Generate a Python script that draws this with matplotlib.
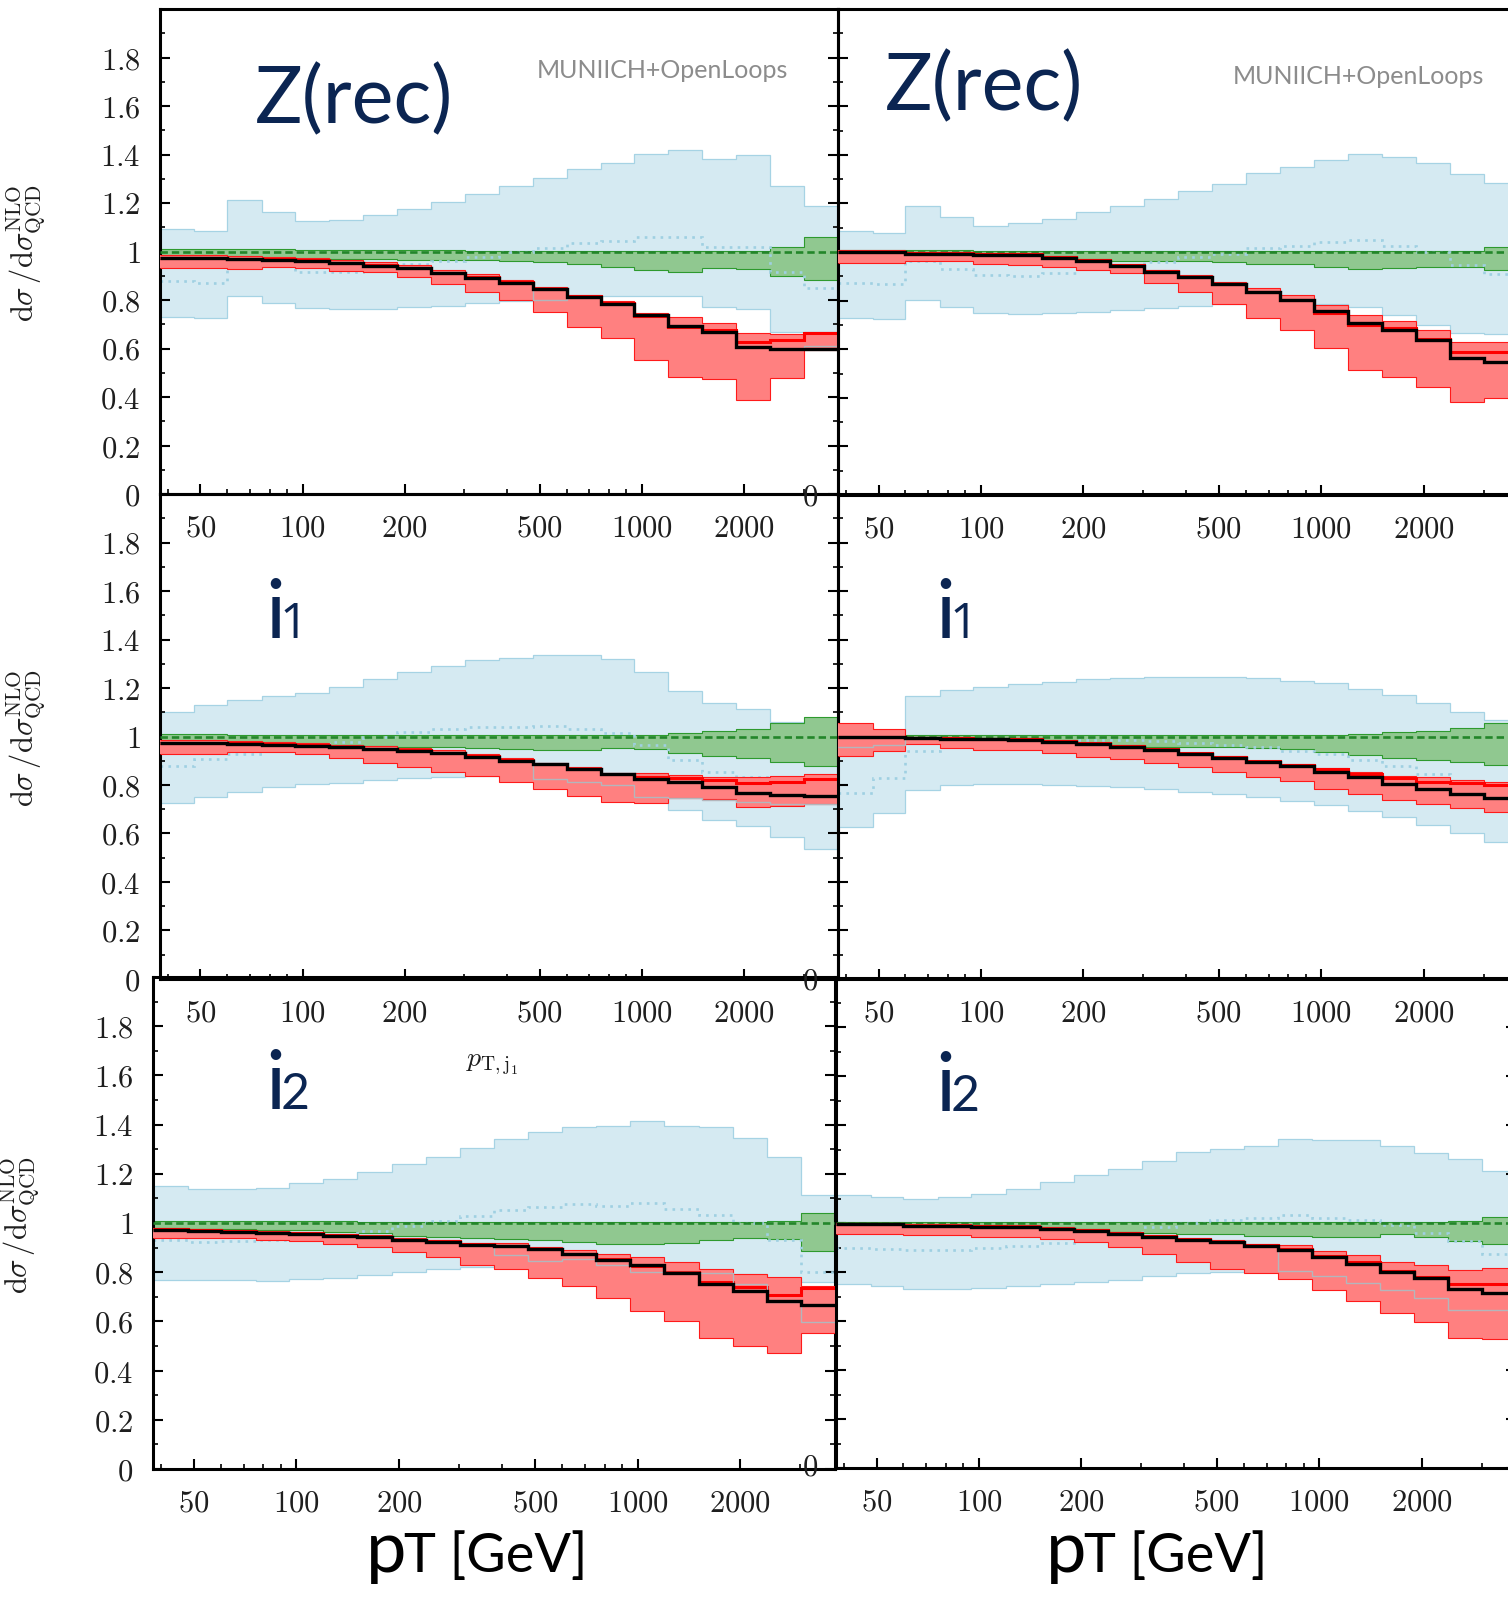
import matplotlib
matplotlib.use("Agg")
import matplotlib.pyplot as plt
from matplotlib.ticker import FixedLocator, FixedFormatter, NullFormatter
from matplotlib.transforms import Bbox

plt.rcParams['mathtext.fontset'] = 'cm'

# ---------------- data ----------------
bin_edges = [38, 48, 60, 76, 95, 120, 151, 190, 239, 301, 379, 477, 600, 756,
             951, 1198, 1508, 1898, 2390, 3009, 3788]
x_range = (38, 3788)
x_major = [50, 100, 200, 500, 1000, 2000]
x_major_labels = ['50', '100', '200', '500', '1000', '2000']
x_minor = [40, 60, 70, 80, 90, 300, 400, 600, 700, 800, 900, 3000]
y_major = [0, 0.2, 0.4, 0.6, 0.8, 1.0, 1.2, 1.4, 1.6, 1.8]
y_major_labels = ['0', '0.2', '0.4', '0.6', '0.8', '1', '1.2', '1.4', '1.6', '1.8']
y_minor = [0.1, 0.3, 0.5, 0.7, 0.9, 1.1, 1.3, 1.5, 1.7, 1.9]
ref_level = 1.0

# Z(rec), left
zl_blue_hi = [1.091, 1.085, 1.212, 1.163, 1.126, 1.129, 1.149, 1.177, 1.205, 1.237, 1.271, 1.302, 1.340, 1.364, 1.401, 1.419, 1.381, 1.397, 1.270, 1.186]
zl_blue_lo = [0.728, 0.727, 0.816, 0.789, 0.766, 0.762, 0.763, 0.772, 0.777, 0.786, 0.795, 0.800, 0.810, 0.816, 0.816, 0.816, 0.772, 0.762, 0.667, 0.667]
zl_blue_c = [0.878, 0.872, 0.944, 0.944, 0.917, 0.917, 0.931, 0.950, 0.961, 0.979, 0.999, 1.013, 1.034, 1.045, 1.061, 1.061, 1.020, 1.020, 0.914, 0.848]
zl_green_hi = [1.012, 1.012, 1.010, 1.010, 1.008, 1.008, 1.006, 1.005, 1.005, 1.004, 1.003, 1.003, 1.003, 1.003, 1.003, 1.003, 1.003, 1.003, 1.020, 1.058]
zl_green_lo = [0.975, 0.975, 0.975, 0.972, 0.970, 0.970, 0.968, 0.966, 0.965, 0.963, 0.961, 0.955, 0.947, 0.937, 0.924, 0.917, 0.931, 0.926, 0.900, 0.882]
zl_red_hi = [0.986, 0.986, 0.980, 0.977, 0.973, 0.963, 0.955, 0.945, 0.925, 0.907, 0.882, 0.852, 0.822, 0.794, 0.745, 0.729, 0.707, 0.665, 0.658, 0.667]
zl_red_lo = [0.931, 0.931, 0.926, 0.937, 0.930, 0.920, 0.916, 0.896, 0.868, 0.834, 0.800, 0.749, 0.690, 0.645, 0.553, 0.481, 0.473, 0.388, 0.480, 0.595]
zl_red_c = [0.975, 0.975, 0.971, 0.968, 0.964, 0.954, 0.945, 0.934, 0.913, 0.895, 0.874, 0.847, 0.817, 0.787, 0.735, 0.690, 0.675, 0.625, 0.635, 0.662]
zl_black = [0.972, 0.972, 0.968, 0.965, 0.961, 0.951, 0.942, 0.931, 0.910, 0.892, 0.871, 0.844, 0.814, 0.784, 0.738, 0.694, 0.667, 0.607, 0.597, 0.597]
zl_grey = [0.972, 0.972, 0.968, 0.965, 0.961, 0.951, 0.942, 0.931, 0.910, 0.892, 0.871, 0.800, 0.814, 0.784, 0.738, 0.694, 0.667, 0.607, 0.597, 0.612]

# Z(rec), right
zr_blue_hi = [1.088, 1.077, 1.191, 1.145, 1.109, 1.118, 1.136, 1.163, 1.189, 1.217, 1.251, 1.280, 1.324, 1.348, 1.379, 1.402, 1.392, 1.365, 1.320, 1.283]
zr_blue_lo = [0.727, 0.725, 0.802, 0.775, 0.748, 0.745, 0.748, 0.752, 0.761, 0.768, 0.778, 0.786, 0.798, 0.802, 0.786, 0.775, 0.741, 0.700, 0.665, 0.661]
zr_blue_c = [0.874, 0.870, 0.964, 0.929, 0.905, 0.903, 0.912, 0.929, 0.940, 0.960, 0.978, 0.992, 1.015, 1.026, 1.043, 1.049, 1.026, 0.998, 0.947, 0.909]
zr_green_hi = [1.008, 1.008, 1.007, 1.007, 1.006, 1.006, 1.005, 1.005, 1.005, 1.005, 1.005, 1.005, 1.005, 1.005, 1.005, 1.005, 1.005, 1.005, 1.005, 1.019]
zr_green_lo = [0.980, 0.980, 0.978, 0.975, 0.972, 0.966, 0.966, 0.966, 0.963, 0.963, 0.963, 0.959, 0.950, 0.950, 0.939, 0.930, 0.934, 0.939, 0.939, 0.925]
zr_red_hi = [1.008, 1.008, 1.000, 1.000, 0.996, 0.996, 0.985, 0.972, 0.952, 0.927, 0.904, 0.876, 0.850, 0.823, 0.782, 0.741, 0.718, 0.681, 0.631, 0.629]
zr_red_lo = [0.953, 0.953, 0.963, 0.963, 0.950, 0.946, 0.940, 0.925, 0.912, 0.874, 0.834, 0.786, 0.727, 0.679, 0.604, 0.514, 0.484, 0.446, 0.384, 0.400]
zr_red_c = [1.001, 1.001, 0.994, 0.994, 0.990, 0.990, 0.979, 0.966, 0.946, 0.921, 0.898, 0.870, 0.836, 0.804, 0.748, 0.700, 0.686, 0.640, 0.587, 0.589]
zr_black = [0.999, 0.999, 0.992, 0.992, 0.988, 0.988, 0.977, 0.964, 0.944, 0.919, 0.896, 0.868, 0.834, 0.802, 0.758, 0.709, 0.679, 0.638, 0.565, 0.548]
zr_grey = [0.999, 0.999, 0.992, 0.992, 0.988, 0.988, 0.977, 0.964, 0.944, 0.919, 0.896, 0.868, 0.834, 0.802, 0.758, 0.709, 0.679, 0.638, 0.565, 0.548]

# j1, left
j1l_blue_hi = [1.100, 1.129, 1.149, 1.168, 1.181, 1.205, 1.236, 1.267, 1.292, 1.314, 1.322, 1.336, 1.336, 1.318, 1.265, 1.189, 1.137, 1.115, 1.061, 1.060]
j1l_blue_lo = [0.724, 0.749, 0.770, 0.793, 0.803, 0.810, 0.821, 0.828, 0.834, 0.837, 0.830, 0.820, 0.800, 0.780, 0.750, 0.697, 0.656, 0.631, 0.584, 0.535]
j1l_blue_c = [0.880, 0.906, 0.927, 0.948, 0.958, 0.977, 0.997, 1.017, 1.030, 1.040, 1.040, 1.043, 1.032, 1.013, 0.965, 0.903, 0.855, 0.834, 0.779, 0.727]
j1l_green_hi = [1.010, 1.010, 1.008, 1.008, 1.006, 1.005, 1.005, 1.005, 1.005, 1.005, 1.005, 1.005, 1.005, 1.005, 1.006, 1.013, 1.024, 1.032, 1.054, 1.082]
j1l_green_lo = [0.970, 0.970, 0.975, 0.975, 0.970, 0.965, 0.962, 0.958, 0.955, 0.952, 0.947, 0.945, 0.943, 0.951, 0.947, 0.933, 0.920, 0.913, 0.896, 0.878]
j1l_red_hi = [0.984, 0.984, 0.981, 0.977, 0.974, 0.967, 0.959, 0.952, 0.943, 0.929, 0.910, 0.892, 0.873, 0.850, 0.848, 0.841, 0.835, 0.831, 0.838, 0.844]
j1l_red_lo = [0.928, 0.928, 0.937, 0.937, 0.928, 0.913, 0.892, 0.876, 0.855, 0.837, 0.814, 0.782, 0.755, 0.730, 0.727, 0.745, 0.741, 0.708, 0.714, 0.722]
j1l_red_c = [0.975, 0.975, 0.972, 0.968, 0.965, 0.958, 0.950, 0.943, 0.934, 0.920, 0.902, 0.888, 0.868, 0.847, 0.835, 0.828, 0.821, 0.810, 0.814, 0.825]
j1l_black = [0.972, 0.972, 0.969, 0.965, 0.962, 0.955, 0.947, 0.940, 0.931, 0.917, 0.899, 0.885, 0.865, 0.844, 0.825, 0.811, 0.793, 0.766, 0.759, 0.756]
j1l_grey = [0.972, 0.972, 0.969, 0.965, 0.962, 0.955, 0.947, 0.940, 0.931, 0.917, 0.899, 0.823, 0.814, 0.800, 0.750, 0.745, 0.740, 0.730, 0.720, 0.720]

# j1, right
j1r_blue_hi = [1.040, 1.020, 1.167, 1.192, 1.204, 1.216, 1.226, 1.236, 1.243, 1.244, 1.244, 1.244, 1.240, 1.229, 1.219, 1.195, 1.170, 1.137, 1.102, 1.068]
j1r_blue_lo = [0.628, 0.683, 0.779, 0.800, 0.804, 0.803, 0.800, 0.796, 0.790, 0.782, 0.772, 0.762, 0.752, 0.734, 0.718, 0.693, 0.667, 0.635, 0.601, 0.564]
j1r_blue_c = [0.766, 0.828, 0.942, 0.968, 0.975, 0.976, 0.979, 0.986, 0.986, 0.982, 0.975, 0.965, 0.958, 0.942, 0.928, 0.903, 0.878, 0.845, 0.814, 0.770]
j1r_green_hi = [1.006, 1.006, 1.006, 1.006, 1.006, 1.006, 1.006, 1.006, 1.006, 1.006, 1.006, 1.006, 1.006, 1.006, 1.006, 1.010, 1.017, 1.024, 1.034, 1.054]
j1r_green_lo = [0.985, 0.985, 0.980, 0.975, 0.972, 0.970, 0.968, 0.965, 0.962, 0.958, 0.958, 0.958, 0.954, 0.947, 0.937, 0.924, 0.910, 0.903, 0.896, 0.882]
j1r_red_hi = [1.054, 1.030, 1.000, 0.996, 0.994, 0.992, 0.985, 0.975, 0.964, 0.950, 0.934, 0.919, 0.901, 0.885, 0.872, 0.852, 0.838, 0.831, 0.821, 0.814]
j1r_red_lo = [0.920, 0.940, 0.968, 0.951, 0.945, 0.943, 0.931, 0.917, 0.906, 0.892, 0.876, 0.855, 0.835, 0.817, 0.782, 0.763, 0.738, 0.721, 0.705, 0.687]
j1r_red_c = [1.000, 1.000, 0.995, 0.993, 0.991, 0.989, 0.982, 0.972, 0.961, 0.947, 0.931, 0.916, 0.898, 0.881, 0.865, 0.845, 0.828, 0.814, 0.807, 0.800]
j1r_black = [0.997, 0.997, 0.992, 0.990, 0.988, 0.986, 0.979, 0.969, 0.958, 0.944, 0.928, 0.913, 0.895, 0.878, 0.855, 0.832, 0.804, 0.782, 0.763, 0.745]
j1r_grey = [0.958, 0.965, 0.992, 0.990, 0.988, 0.986, 0.979, 0.969, 0.958, 0.944, 0.928, 0.913, 0.895, 0.878, 0.855, 0.832, 0.804, 0.782, 0.763, 0.745]

# j2, left
j2l_blue_hi = [1.150, 1.137, 1.137, 1.142, 1.163, 1.178, 1.208, 1.238, 1.269, 1.304, 1.341, 1.369, 1.391, 1.394, 1.415, 1.394, 1.391, 1.345, 1.269, 1.112]
j2l_blue_lo = [0.768, 0.768, 0.768, 0.765, 0.772, 0.777, 0.790, 0.802, 0.813, 0.823, 0.830, 0.830, 0.820, 0.810, 0.800, 0.800, 0.800, 0.793, 0.777, 0.760]
j2l_blue_c = [0.931, 0.921, 0.926, 0.930, 0.934, 0.950, 0.967, 0.987, 1.009, 1.030, 1.054, 1.067, 1.078, 1.070, 1.081, 1.058, 1.034, 1.001, 0.931, 0.802]
j2l_green_hi = [1.009, 1.009, 1.008, 1.008, 1.007, 1.007, 1.006, 1.006, 1.005, 1.005, 1.005, 1.005, 1.005, 1.005, 1.005, 1.005, 1.005, 1.005, 1.009, 1.041]
j2l_green_lo = [0.975, 0.975, 0.975, 0.972, 0.970, 0.964, 0.960, 0.949, 0.944, 0.940, 0.934, 0.929, 0.921, 0.914, 0.914, 0.917, 0.929, 0.940, 0.934, 0.888]
j2l_red_hi = [0.981, 0.977, 0.973, 0.968, 0.965, 0.957, 0.952, 0.939, 0.932, 0.920, 0.919, 0.901, 0.890, 0.876, 0.863, 0.840, 0.811, 0.794, 0.781, 0.744]
j2l_red_lo = [0.937, 0.937, 0.937, 0.932, 0.926, 0.914, 0.901, 0.884, 0.863, 0.830, 0.811, 0.777, 0.744, 0.697, 0.644, 0.603, 0.533, 0.498, 0.473, 0.553]
j2l_red_c = [0.974, 0.970, 0.966, 0.961, 0.958, 0.950, 0.945, 0.932, 0.925, 0.913, 0.908, 0.896, 0.876, 0.854, 0.824, 0.802, 0.760, 0.740, 0.709, 0.737]
j2l_black = [0.971, 0.967, 0.963, 0.958, 0.955, 0.947, 0.942, 0.929, 0.922, 0.910, 0.905, 0.893, 0.873, 0.851, 0.830, 0.797, 0.752, 0.724, 0.682, 0.665]
j2l_grey = [0.971, 0.967, 0.963, 0.958, 0.955, 0.947, 0.942, 0.929, 0.922, 0.910, 0.870, 0.846, 0.852, 0.830, 0.800, 0.800, 0.796, 0.754, 0.679, 0.596]

# j2, right
j2r_blue_hi = [1.116, 1.107, 1.099, 1.107, 1.120, 1.137, 1.166, 1.194, 1.220, 1.252, 1.291, 1.304, 1.316, 1.344, 1.340, 1.337, 1.316, 1.287, 1.262, 1.212]
j2r_blue_lo = [0.749, 0.741, 0.732, 0.732, 0.735, 0.741, 0.749, 0.758, 0.769, 0.782, 0.794, 0.799, 0.799, 0.800, 0.800, 0.790, 0.780, 0.770, 0.760, 0.750]
j2r_blue_c = [0.899, 0.894, 0.888, 0.888, 0.899, 0.907, 0.920, 0.940, 0.954, 0.982, 1.002, 1.012, 1.019, 1.032, 1.020, 1.012, 0.991, 0.960, 0.927, 0.874]
j2r_green_hi = [1.006, 1.006, 1.006, 1.006, 1.006, 1.006, 1.006, 1.006, 1.006, 1.006, 1.006, 1.006, 1.006, 1.006, 1.006, 1.006, 1.006, 1.006, 1.007, 1.024]
j2r_green_lo = [0.990, 0.990, 0.988, 0.985, 0.982, 0.978, 0.974, 0.968, 0.963, 0.961, 0.955, 0.955, 0.947, 0.947, 0.942, 0.942, 0.955, 0.942, 0.925, 0.913]
j2r_red_hi = [1.002, 1.002, 0.995, 0.995, 0.993, 0.990, 0.982, 0.977, 0.965, 0.952, 0.940, 0.929, 0.915, 0.910, 0.887, 0.869, 0.841, 0.828, 0.808, 0.816]
j2r_red_lo = [0.957, 0.957, 0.949, 0.949, 0.942, 0.942, 0.935, 0.924, 0.904, 0.874, 0.841, 0.812, 0.794, 0.771, 0.727, 0.682, 0.632, 0.594, 0.532, 0.527]
j2r_red_c = [0.996, 0.996, 0.989, 0.989, 0.987, 0.984, 0.976, 0.971, 0.959, 0.946, 0.934, 0.923, 0.909, 0.893, 0.866, 0.840, 0.805, 0.779, 0.749, 0.751]
j2r_black = [0.994, 0.994, 0.987, 0.987, 0.985, 0.982, 0.974, 0.969, 0.957, 0.944, 0.932, 0.921, 0.907, 0.891, 0.861, 0.832, 0.799, 0.774, 0.732, 0.716]
j2r_grey = [0.994, 0.994, 0.987, 0.987, 0.985, 0.982, 0.974, 0.969, 0.957, 0.944, 0.932, 0.921, 0.907, 0.804, 0.782, 0.757, 0.727, 0.694, 0.644, 0.644]

# ---------------- styling ----------------
W, H = 1508, 1598
BLUE_FILL = '#d5eaf2'
BLUE_EDGE = '#a6d3e4'
BLUE_DOT = '#9fd0e2'
GREEN_FILL = '#90c890'
GREEN_EDGE = '#2e9a2e'
GREEN_DASH = '#23862a'
RED_FILL = '#ff8080'
RED_EDGE = '#ff1a1a'
RED_LINE = '#ff0000'
GREY = '#b4b6bc'
NAVY = '#0b2552'

fig = plt.figure(figsize=(W / 100, H / 100), dpi=100)
fig.patch.set_facecolor('white')


def rect(l, r, t, b):
    return [l / W, 1 - b / H, (r - l) / W, (b - t) / H]


def panel(box, series, show_ylabels):
    ax = fig.add_axes(rect(*box))
    ax.set_facecolor('none')
    ax.set_xscale('log')
    ax.set_xlim(*x_range)
    ax.set_ylim(0, 2)
    (b_lo, b_hi, b_c, g_lo, g_hi, r_lo, r_hi, r_c, blk, gry) = series
    e = bin_edges
    ax.stairs(b_hi, e, baseline=b_lo, fill=True, color=BLUE_FILL, lw=0, zorder=1)
    ax.stairs(b_hi, e, baseline=None, color=BLUE_EDGE, lw=0.9, zorder=1.1)
    ax.stairs(b_lo, e, baseline=None, color=BLUE_EDGE, lw=0.9, zorder=1.1)
    ax.stairs(g_hi, e, baseline=g_lo, fill=True, color=GREEN_FILL, lw=0, zorder=2)
    ax.stairs(g_hi, e, baseline=None, color=GREEN_EDGE, lw=0.8, zorder=2.1)
    ax.stairs(g_lo, e, baseline=None, color=GREEN_EDGE, lw=0.8, zorder=2.1)
    ax.stairs(b_c, e, baseline=None, color=BLUE_DOT, lw=1.9,
              linestyle=(0, (1, 2.0)), zorder=2.5)
    ax.axhline(ref_level, color=GREEN_DASH, lw=1.9, linestyle=(0, (2.8, 1.5)), zorder=2.6)
    ax.stairs(r_hi, e, baseline=r_lo, fill=True, color=RED_FILL, lw=0, zorder=3)
    ax.stairs(r_hi, e, baseline=None, color=RED_EDGE, lw=0.8, zorder=3.1)
    ax.stairs(r_lo, e, baseline=None, color=RED_EDGE, lw=0.8, zorder=3.1)
    ax.stairs(r_c, e, baseline=None, color=RED_LINE, lw=2.2, zorder=3.5)
    ax.stairs(gry, e, baseline=None, color=GREY, lw=1.0, zorder=3.6)
    ax.stairs(blk, e, baseline=None, color='black', lw=2.4, zorder=4)

    ax.xaxis.set_major_locator(FixedLocator(x_major))
    ax.xaxis.set_major_formatter(FixedFormatter(['$%s$' % s for s in x_major_labels]))
    ax.xaxis.set_minor_locator(FixedLocator(x_minor))
    ax.xaxis.set_minor_formatter(NullFormatter())
    ax.yaxis.set_major_locator(FixedLocator(y_major))
    ax.yaxis.set_major_formatter(FixedFormatter(['$%s$' % s for s in y_major_labels]))
    ax.yaxis.set_minor_locator(FixedLocator(y_minor))
    ax.yaxis.set_minor_formatter(NullFormatter())
    ax.tick_params(which='major', direction='in', length=7.2, width=1.5,
                   labelsize=22, pad=14, top=False, right=True, left=True,
                   labelleft=show_ylabels, colors='black')
    ax.tick_params(which='minor', direction='in', length=3.6, width=1.2,
                   top=False, right=True, left=True)
    for s in ax.spines.values():
        s.set_linewidth(2.2)
    for lab in ax.get_xticklabels() + ax.get_yticklabels():
        lab.set_color('#1e1e1e')
    return ax


panel((160, 838, 9, 494),
      (zl_blue_lo, zl_blue_hi, zl_blue_c, zl_green_lo, zl_green_hi,
       zl_red_lo, zl_red_hi, zl_red_c, zl_black, zl_grey), True)
panel((838, 1518, 9, 495),
      (zr_blue_lo, zr_blue_hi, zr_blue_c, zr_green_lo, zr_green_hi,
       zr_red_lo, zr_red_hi, zr_red_c, zr_black, zr_grey), False)
panel((160, 838, 494, 979),
      (j1l_blue_lo, j1l_blue_hi, j1l_blue_c, j1l_green_lo, j1l_green_hi,
       j1l_red_lo, j1l_red_hi, j1l_red_c, j1l_black, j1l_grey), True)
panel((838, 1518, 494, 979),
      (j1r_blue_lo, j1r_blue_hi, j1r_blue_c, j1r_green_lo, j1r_green_hi,
       j1r_red_lo, j1r_red_hi, j1r_red_c, j1r_black, j1r_grey), False)
panel((153, 835, 977, 1469),
      (j2l_blue_lo, j2l_blue_hi, j2l_blue_c, j2l_green_lo, j2l_green_hi,
       j2l_red_lo, j2l_red_hi, j2l_red_c, j2l_black, j2l_grey), True)
panel((836, 1516, 978, 1468),
      (j2r_blue_lo, j2r_blue_hi, j2r_blue_c, j2r_green_lo, j2r_green_hi,
       j2r_red_lo, j2r_red_hi, j2r_red_c, j2r_black, j2r_grey), False)


def ftext(x, y, s, **kw):
    return fig.text(x / W, 1 - y / H, s, **kw)


# y-axis titles
ylab = r'$\mathrm{d}\sigma\,/\mathrm{d}\sigma^{\mathrm{NLO}}_{\mathrm{QCD}}$'
for (xc, yc) in ((26, 253), (26, 738), (20, 1225)):
    ftext(xc, yc, ylab, rotation=90, ha='center', va='center', fontsize=22, color='#1e1e1e')

# peeking zero labels of right-hand panels
for yc in (497, 981, 1467):
    ftext(810, yc, '$0$', ha='center', va='center', fontsize=22, color='#1e1e1e')

# big panel labels
ftext(255, 123, 'Z(rec)', fontsize=57, family='Lato', color=NAVY, ha='left', va='baseline')
ftext(885, 110, 'Z(rec)', fontsize=57, family='Lato', color=NAVY, ha='left', va='baseline')
ftext(537, 78, 'MUNIICH+OpenLoops', fontsize=18, family='Lato', color='#8c8c8c',
      ha='left', va='baseline')
ftext(1233, 84, 'MUNIICH+OpenLoops', fontsize=18, family='Lato', color='#8c8c8c',
      ha='left', va='baseline')

# jet labels (descender of j hidden as in the original)
for (xj, xd, yb, digit, dfam) in ((266, 280, 638, '1', 'Open Sans'),
                                  (936, 950, 638, '1', 'Open Sans'),
                                  (266, 281, 1109, '2', 'Lato'),
                                  (936, 951, 1111, '2', 'Lato')):
    t = ftext(xj, yb, 'j', fontsize=60, family='Lato', color=NAVY, ha='left', va='baseline')
    t.set_clip_box(Bbox.from_extents(0, H - yb, W, H))
    t.set_clip_on(True)
    ftext(xd, yb, digit, fontsize=36, family=dfam, color=NAVY, ha='left', va='baseline')

# small observable label
ftext(466, 1066, r'$p_{\mathrm{T,j_1}}$', fontsize=20, color='#1e1e1e', ha='left', va='baseline')

# x-axis titles: large "p" followed by "T [GeV]"
for (xp, xt) in ((366, 404), (1046, 1084)):
    ftext(xp, 1572, 'p', fontsize=52, family='Lato', color='black', ha='left', va='baseline')
    ftext(xt, 1572, 'T [GeV]', fontsize=39, family='Lato', color='black', ha='left', va='baseline')

fig.savefig('out.png', dpi=100, facecolor='white')
